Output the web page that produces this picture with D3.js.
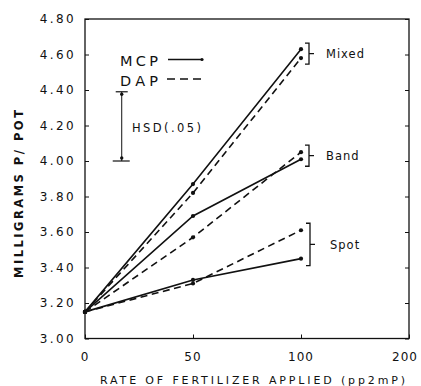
<!DOCTYPE html>
<html><head><meta charset="utf-8">
<script src="https://cdn.jsdelivr.net/npm/d3@7"></script>
<style>
body{margin:0;background:#fff;}
svg{display:block;}
text{font-family:"DejaVu Sans",sans-serif;fill:#111;}
</style></head>
<body><svg id="c" width="421" height="386"></svg>
<script>
// ---- data ----
const rates = [0, 50, 100];
const groups = ["Mixed", "Band", "Spot"];
const mcpMixed = [3.15, 3.87, 4.63];
const dapMixed = [3.15, 3.82, 4.58];
const mcpBand  = [3.15, 3.69, 4.01];
const dapBand  = [3.15, 3.57, 4.05];
const mcpSpot  = [3.15, 3.33, 3.45];
const dapSpot  = [3.15, 3.31, 3.61];
const yTicks = [3.0, 3.2, 3.4, 3.6, 3.8, 4.0, 4.2, 4.4, 4.6, 4.8];
const yTickLabels = ["3.00","3.20","3.40","3.60","3.80","4.00","4.20","4.40","4.60","4.80"];
const xTicks = [0, 50, 100, 150];
const xTickLabels = ["0", "50", "100", "200"];
const hsdX = 17, hsdLow = 4.00, hsdHigh = 4.39;

const svg = d3.select("#c");
const L = 85, R = 409, T = 19, B = 338.5;
const x = d3.scaleLinear().domain([0, 150]).range([L, R]);
const y = d3.scaleLinear().domain([3.0, 4.8]).range([B, T]);
const ink = "#111";

// frame
svg.append("rect").attr("x", L).attr("y", T).attr("width", R - L).attr("height", B - T)
  .attr("fill", "none").attr("stroke", ink).attr("stroke-width", 1.3);

// axes with inward ticks
const yl = svg.append("g").attr("transform", `translate(${L},0)`)
  .call(d3.axisRight(y).tickValues(yTicks).tickSize(4).tickFormat(""));
const yr = svg.append("g").attr("transform", `translate(${R},0)`)
  .call(d3.axisLeft(y).tickValues(yTicks).tickSize(4).tickFormat(""));
const xb = svg.append("g").attr("transform", `translate(0,${B})`)
  .call(d3.axisTop(x).tickValues(xTicks).tickSize(4).tickFormat(""));
[yl, yr, xb].forEach(g => { g.select(".domain").remove(); g.selectAll("line").attr("stroke", ink).attr("stroke-width", 1); });

// y tick labels
svg.append("g").selectAll("text").data(yTicks).join("text")
  .attr("x", 76).attr("y", d => y(d)).attr("dy", "0.36em")
  .attr("text-anchor", "end").attr("font-size", 12).attr("letter-spacing", 2.4)
  .text((d, i) => yTickLabels[i]);
// x tick labels
svg.append("g").selectAll("text").data(xTicks).join("text")
  .attr("x", (d, i) => x(d) - (i === xTicks.length - 1 ? 4 : 0)).attr("y", 357).attr("dy", "0.36em")
  .attr("text-anchor", "middle").attr("font-size", 12).attr("letter-spacing", 1)
  .text((d, i) => xTickLabels[i]);

// axis titles
svg.append("text").attr("x", 100).attr("y", 380).attr("dy", "0.36em")
  .attr("font-size", 11).attr("textLength", 305).attr("lengthAdjust", "spacing")
  .text("RATE OF FERTILIZER APPLIED (pp2mP)");
svg.append("text").attr("transform", "translate(19,278) rotate(-90)").attr("dy", "0.36em")
  .attr("font-size", 11.5).attr("font-weight", "bold").attr("textLength", 168).attr("lengthAdjust", "spacing")
  .text("MILLIGRAMS P/ POT");

// series
const series = [
  {v: mcpMixed, dash: null}, {v: dapMixed, dash: "7,4.5"},
  {v: mcpBand, dash: null},  {v: dapBand, dash: "7,4.5"},
  {v: mcpSpot, dash: null},  {v: dapSpot, dash: "7,4.5"}
];
const line = d3.line().x((d, i) => x(rates[i])).y(d => y(d));
series.forEach(s => {
  svg.append("path").attr("d", line(s.v)).attr("fill", "none").attr("stroke", ink)
    .attr("stroke-width", 1.6).attr("stroke-dasharray", s.dash);
  svg.append("g").selectAll("circle").data(s.v).join("circle")
    .attr("cx", (d, i) => x(rates[i])).attr("cy", d => y(d)).attr("r", 2.1).attr("fill", ink);
});

// brackets and group labels
const pairs = [[mcpMixed, dapMixed, 6], [mcpBand, dapBand, 7], [mcpSpot, dapSpot, 7]];
pairs.forEach((p, gi) => {
  const a = y(p[0][2]), b = y(p[1][2]);
  const top = Math.min(a, b) - p[2], bot = Math.max(a, b) + p[2];
  const bx = x(100) + 8 + (gi === 2 ? 1 : 0);
  const mid = (top + bot) / 2;
  svg.append("path")
    .attr("d", `M${bx - 4},${top} L${bx},${top} L${bx},${bot} L${bx - 4},${bot} M${bx},${mid} L${bx + 5},${mid}`)
    .attr("fill", "none").attr("stroke", ink).attr("stroke-width", 1.3);
  svg.append("text").attr("x", bx + 17 + (gi === 2 ? 3 : 0)).attr("y", mid).attr("dy", "0.36em")
    .attr("font-size", 11.5).attr("letter-spacing", 1).text(groups[gi]);
});

// legend
svg.append("text").attr("x", 120).attr("y", 61).attr("dy", "0.36em").attr("font-size", 14.5)
  .attr("textLength", 38).attr("lengthAdjust", "spacing").text("MCP");
svg.append("text").attr("x", 120).attr("y", 80.5).attr("dy", "0.36em").attr("font-size", 14.5)
  .attr("textLength", 38).attr("lengthAdjust", "spacing").text("DAP");
svg.append("line").attr("x1", 168).attr("x2", 202).attr("y1", 59.5).attr("y2", 59.5)
  .attr("stroke", ink).attr("stroke-width", 1.5);
svg.append("circle").attr("cx", 202).attr("cy", 59.5).attr("r", 1.6).attr("fill", ink);
svg.append("line").attr("x1", 167).attr("x2", 203).attr("y1", 79).attr("y2", 79)
  .attr("stroke", ink).attr("stroke-width", 1.5).attr("stroke-dasharray", "8,5");

// HSD bar
const hx = x(hsdX);
svg.append("line").attr("x1", hx).attr("x2", hx).attr("y1", y(hsdHigh)).attr("y2", y(hsdLow))
  .attr("stroke", ink).attr("stroke-width", 1);
svg.append("line").attr("x1", hx - 6).attr("x2", hx + 6).attr("y1", y(hsdHigh)).attr("y2", y(hsdHigh))
  .attr("stroke", ink).attr("stroke-width", 1.2);
svg.append("line").attr("x1", hx - 9).attr("x2", hx + 8).attr("y1", y(hsdLow)).attr("y2", y(hsdLow))
  .attr("stroke", ink).attr("stroke-width", 1.2);
svg.append("circle").attr("cx", hx).attr("cy", y(hsdHigh) + 2.5).attr("r", 1.7).attr("fill", ink);
svg.append("circle").attr("cx", hx).attr("cy", y(hsdLow) - 3).attr("r", 1.7).attr("fill", ink);
svg.append("text").attr("x", 132).attr("y", 128).attr("dy", "0.36em").attr("font-size", 11.5)
  .attr("textLength", 69).attr("lengthAdjust", "spacing").text("HSD(.05)");
</script></body></html>
